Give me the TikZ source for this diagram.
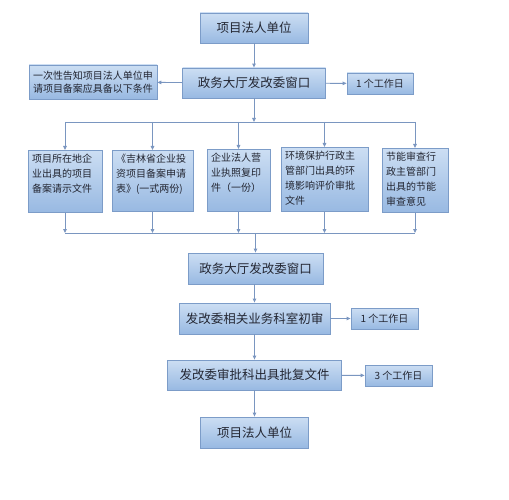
\documentclass[tikz,border=0pt]{standalone}
\usepackage{fontspec}
\setmainfont{Noto Sans CJK SC}
\usetikzlibrary{arrows.meta}
\definecolor{boxtop}{RGB}{204,222,243}
\definecolor{boxbot}{RGB}{152,185,226}
\definecolor{boxline}{RGB}{124,156,200}
\definecolor{flowline}{RGB}{122,150,192}
\definecolor{txt}{RGB}{35,38,50}
\newcommand{\rowtxt}[3]{\parbox[c][#1][t]{#2}{\raggedright\fontsize{10}{15}\selectfont #3}}
\begin{document}
\begin{tikzpicture}[x=1pt,y=1pt,yscale=-1,xscale=1,
  box/.style={draw=boxline,top color=boxtop,bottom color=boxbot,text=txt,inner sep=0pt,line width=0.8pt},
  mainbox/.style={box,font=\fontsize{12.5}{14}\selectfont},
  notebox/.style={box,font=\fontsize{10}{13}\selectfont},
  rowbox/.style={box,anchor=north,inner ysep=4pt},
  flow/.style={draw=flowline,line width=0.9pt,-{Triangle[length=4pt,width=3.5pt]}},
  bus/.style={draw=flowline,line width=0.9pt}]
\useasboundingbox (0,0) rectangle (509,500);
\fill[white] (0,0) rectangle (509,500);
% top part
\node (unit) [mainbox,minimum width=108,minimum height=30] at (254,28) {项目法人单位};
\node (win) [mainbox,minimum width=143,minimum height=30] at (254,83) {政务大厅发改委窗口};
\node (tell) [notebox,minimum width=128,minimum height=34,align=left] at (93,82) {一次性告知项目法人单位申\\请项目备案应具备以下条件};
\node (day1) [notebox,minimum width=66,minimum height=21] at (380,83.5) {1 个工作日};
\draw[flow] (unit) -- (win);
\draw[flow] (win) -- (tell);
\draw[flow] (win) -- (day1);
% materials
\node (req) [rowbox,minimum width=74,minimum height=62] at (65,150) {\rowtxt{54pt}{66pt}{项目所在地企\\业出具的项目\\备案请示文件}};
\node (form) [rowbox,minimum width=81,minimum height=61] at (152.5,150) {\rowtxt{53pt}{73pt}{《吉林省企业投\\资项目备案申请\\表》(一式两份)}};
\node (lic) [rowbox,minimum width=63,minimum height=62] at (238.5,149) {\rowtxt{54pt}{55pt}{企业法人营\\业执照复印\\件（一份）}};
\node (env) [rowbox,minimum width=87,minimum height=64] at (324.5,147) {\rowtxt{56pt}{79pt}{环境保护行政主\\管部门出具的环\\境影响评价审批\\文件}};
\node (energy) [rowbox,minimum width=66,minimum height=64] at (415,148) {\rowtxt{56pt}{58pt}{节能审查行\\政主管部门\\出具的节能\\审查意见}};
\coordinate (split) at (254,122);
\coordinate (join) at (255.5,233);
\draw[flow] (win) -- (split);
\draw[bus] (req.north |- split) -- (energy.north |- split);
\draw[bus] (req.south |- join) -- (energy.south |- join);
\foreach \m in {req,form,lic,env,energy}{
  \draw[flow] (\m.north |- split) -- (\m.north);
  \draw[flow] (\m.south) -- (\m.south |- join);
}
% bottom part
\node (win2) [mainbox,minimum width=135,minimum height=31] at (255.5,268.5) {政务大厅发改委窗口};
\node (check) [mainbox,minimum width=151,minimum height=31] at (254.5,318.5) {发改委相关业务科室初审};
\node (day2) [notebox,minimum width=67,minimum height=21] at (384.5,318.5) {1 个工作日};
\node (reply) [mainbox,minimum width=174,minimum height=30] at (254.5,375) {发改委审批科出具批复文件};
\node (day3) [notebox,minimum width=67,minimum height=21] at (398.5,375.5) {3 个工作日};
\node (unit2) [mainbox,minimum width=108,minimum height=31] at (254.5,432.5) {项目法人单位};
\draw[flow] (join) -- (join |- win2.north);
\draw[flow] (win2.south -| check) -- (check);
\draw[flow] (check) -- (reply);
\draw[flow] (check) -- (day2);
\draw[flow] (reply) -- (day3);
\draw[flow] (reply) -- (unit2);
\end{tikzpicture}
\end{document}
